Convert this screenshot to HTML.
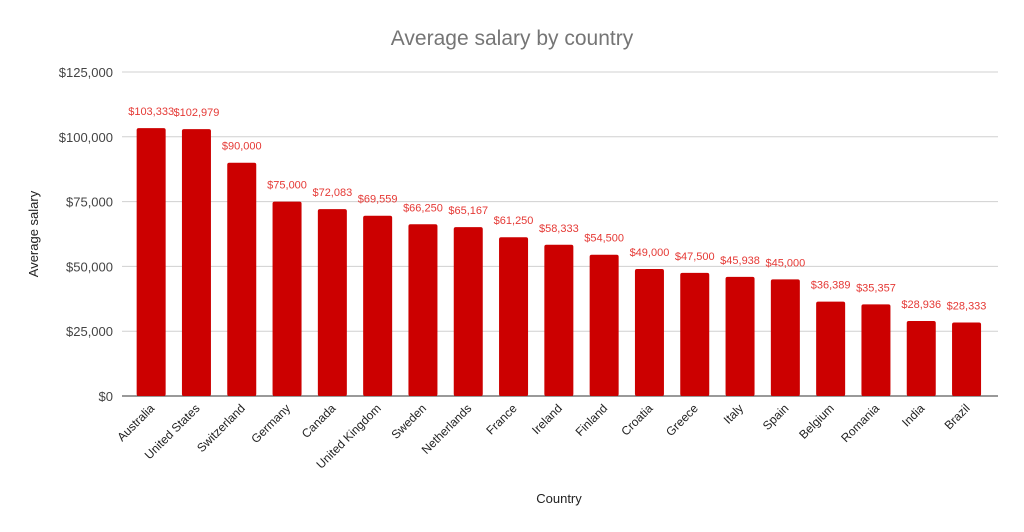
<!DOCTYPE html>
<html><head><meta charset="utf-8"><style>
body{margin:0;background:#fff;}
svg{display:block;font-family:"Liberation Sans",Arial,sans-serif;}
</style></head><body>
<svg id="chart" width="1024" height="532">
<text x="512" y="45" text-anchor="middle" font-size="21" fill="#757575">Average salary by country</text>
<g id="grid"></g><g id="bars"></g><g id="xl"></g>
<text transform="translate(38,234) rotate(-90)" text-anchor="middle" font-size="13" fill="#222">Average salary</text>
<text x="559" y="503" text-anchor="middle" font-size="13" fill="#222">Country</text>
</svg>
<script>
const categories=["Australia","United States","Switzerland","Germany","Canada","United Kingdom","Sweden","Netherlands","France","Ireland","Finland","Croatia","Greece","Italy","Spain","Belgium","Romania","India","Brazil"];
const values=[103333,102979,90000,75000,72083,69559,66250,65167,61250,58333,54500,49000,47500,45938,45000,36389,35357,28936,28333];
const ticks=[0,25000,50000,75000,100000,125000];
const NS="http://www.w3.org/2000/svg";
const y0=396,yTop=72,maxV=125000,x0=128.5,step=45.3,bw=29;
const yS=v=>y0-(v/maxV)*(y0-yTop);
const xS=i=>x0+step*(i+0.5);
const fmt=v=>"$"+v.toLocaleString("en-US");
function mk(t,a,p){const e=document.createElementNS(NS,t);for(const k in a)e.setAttribute(k,a[k]);p.appendChild(e);return e;}
const g=document.getElementById("grid");
ticks.forEach(t=>{
 const l=mk("line",{x1:122,x2:998,y1:yS(t),y2:yS(t),stroke:t===0?"#333":"#d0d0d0","stroke-width":1},g);
 
 
 const tx=mk("text",{x:113,y:yS(t)+5,"text-anchor":"end","font-size":13,fill:"#444"},g);
 tx.textContent=fmt(t);
 
 
});
const b=document.getElementById("bars"),xl=document.getElementById("xl");
values.forEach((v,i)=>{
 const cx=xS(i);
 const r=mk("rect",{x:cx-bw/2,y:yS(v),width:bw,height:y0-yS(v),fill:"#cc0000",rx:2},b);
 
 
 const lb=mk("text",{x:cx,y:yS(v)-13,"text-anchor":"middle","font-size":11,fill:"#e53935"},b);
 lb.textContent=fmt(v);
 
 
 const c=mk("text",{transform:`translate(${cx+4},${y0+13}) rotate(-45)`,"text-anchor":"end","font-size":12,fill:"#222"},xl);
 c.textContent=categories[i];
 
 
});
</script>
</body></html>
